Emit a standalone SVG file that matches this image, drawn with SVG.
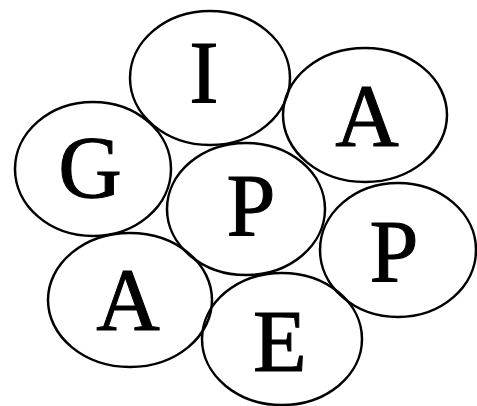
<svg xmlns="http://www.w3.org/2000/svg" width="477" height="406" viewBox="0 0 477 406">
<style>
ellipse{fill:none;stroke:#000;stroke-width:2.5}
text{font-family:"Liberation Serif","DejaVu Serif",serif;font-size:88px;fill:#000;stroke:#000;stroke-width:1;text-anchor:middle}
</style>
<rect width="477" height="406" fill="#fff"/>
<g id="node-I"><ellipse cx="210" cy="78" rx="80" ry="67"/><text x="204" y="102">I</text></g>
<g id="node-A1"><ellipse cx="365" cy="115" rx="82" ry="67"/><text x="367" y="145">A</text></g>
<g id="node-G"><ellipse cx="93" cy="169" rx="78" ry="67"/><text x="90" y="197">G</text></g>
<g id="node-P1"><ellipse cx="246" cy="209" rx="79" ry="66"/><text x="251" y="235">P</text></g>
<g id="node-P2"><ellipse cx="398" cy="250" rx="78" ry="67"/><text x="394" y="281">P</text></g>
<g id="node-A2"><ellipse cx="130" cy="300" rx="82" ry="67"/><text x="128" y="329">A</text></g>
<g id="node-E"><ellipse cx="282" cy="339" rx="80" ry="66"/><text x="280" y="371">E</text></g>
<g id="connectors"/>
</svg>
